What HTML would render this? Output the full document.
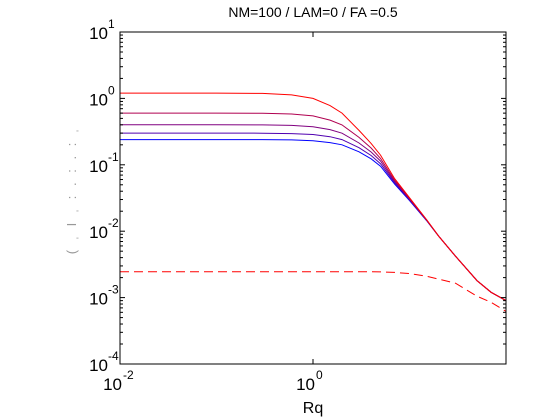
<!DOCTYPE html>
<html><head><meta charset="utf-8"><style>
html,body{margin:0;padding:0;background:#fff;}
svg{display:block;font-family:"Liberation Sans",Arial,sans-serif;}
</style></head><body>
<svg id="chart" width="560" height="420" viewBox="0 0 560 420" xmlns="http://www.w3.org/2000/svg">
<rect x="0" y="0" width="560" height="420" fill="#fff"/>
<text x="313" y="17" text-anchor="middle" font-size="14">NM=100 / LAM=0 / FA =0.5</text>
<text x="313" y="413" text-anchor="middle" font-size="16">Rq</text>
<text transform="translate(76,190) rotate(-90)" text-anchor="middle" font-size="13" fill="#999" letter-spacing="3">( ˌ I ˌ : . : . : ˌ</text>
<g id="plot"></g>
</svg>
<script>
const rq = [0.01,0.1,0.3,0.6,1,1.5,2,3,4,5,7,10,15,20,30,50,70,100];
const sRed    = [1.2,1.2,1.19,1.13,1.0,0.78,0.6,0.33,0.21,0.14,0.062,0.032,0.015,0.0085,0.0042,0.0018,0.0012,0.0009];
const sMag    = [0.6,0.6,0.597,0.582,0.545,0.472,0.399,0.259,0.179,0.125,0.0589,0.0312,0.0149,0.0085,0.0042,0.0018,0.0012,0.0009];
const sPurple = [0.4,0.4,0.399,0.392,0.375,0.339,0.299,0.213,0.156,0.114,0.0562,0.0304,0.0147,0.0085,0.0042,0.0018,0.0012,0.0009];
const sViolet = [0.3,0.3,0.299,0.295,0.286,0.265,0.24,0.181,0.138,0.104,0.0537,0.0297,0.0146,0.0085,0.0042,0.0018,0.0012,0.0009];
const sBlue   = [0.24,0.24,0.24,0.237,0.231,0.216,0.2,0.157,0.123,0.0953,0.0513,0.0289,0.0145,0.0085,0.0042,0.0018,0.0012,0.0009];
const sDashed = [0.00245,0.00245,0.00245,0.00245,0.00245,0.00245,0.00245,0.00245,0.00245,0.00244,0.0024,0.0023,0.0021,0.0019,0.00165,0.00105,0.00085,0.00062];
const xTickExp = [-2,0,2];
const yTickExp = [-4,-3,-2,-1,0,1];

const L=120,R=506,T=32,B=364;
const xMin=-2,xMax=2,yMin=-4,yMax=1;
const NS="http://www.w3.org/2000/svg";
function X(v){return L+(Math.log10(v)-xMin)/(xMax-xMin)*(R-L);}
function Y(v){return B-(Math.log10(v)-yMin)/(yMax-yMin)*(B-T);}
const g=document.getElementById('plot');
function mk(tag,attrs,parent){const e=document.createElementNS(NS,tag);for(const k in attrs)e.setAttribute(k,attrs[k]);(parent||g).appendChild(e);return e;}

const series=[[sDashed,'#ff0000','9,5','curve-dashed'],[sBlue,'#0000ff',null,'curve-blue'],[sViolet,'#5000b0',null,'curve-violet'],[sPurple,'#800080',null,'curve-purple'],[sMag,'#b00050',null,'curve-magenta'],[sRed,'#ff0000',null,'curve-red']];
series.forEach(s=>{
  const d=rq.map((x,i)=>(i?'L':'M')+X(x).toFixed(1)+' '+Y(s[0][i]).toFixed(1)).join(' ');
  const p=mk('path',{d:d,fill:'none',stroke:s[1],'stroke-width':1});
  if(s[2])p.setAttribute('stroke-dasharray',s[2]);
  
  
});

const frame=mk('rect',{x:L,y:T,width:R-L,height:B-T,fill:'none',stroke:'#000','stroke-width':1});



yTickExp.forEach(e=>{
  const y=Y(Math.pow(10,e));
  mk('line',{x1:L,x2:L+5,y1:y,y2:y,stroke:'#000'});
  mk('line',{x1:R,x2:R-5,y1:y,y2:y,stroke:'#000'});
  if(e<yMax){for(let m=2;m<10;m++){const ym=Y(m*Math.pow(10,e));
    mk('line',{x1:L,x2:L+3,y1:ym,y2:ym,stroke:'#000'});
    mk('line',{x1:R,x2:R-3,y1:ym,y2:ym,stroke:'#000'});}}
  const t=mk('text',{x:L-12,y:y+7,'text-anchor':'end','font-size':17});
  t.textContent='10';
  
  
  const s=mk('text',{x:L-12,y:y-4,'text-anchor':'start','font-size':12});
  s.textContent=String(e);
  
  
});
xTickExp.forEach(e=>{
  const x=X(Math.pow(10,e));
  mk('line',{x1:x,x2:x,y1:B,y2:B-5,stroke:'#000'});
  mk('line',{x1:x,x2:x,y1:T,y2:T+5,stroke:'#000'});
  if(e>=xMax)return;
  const t=mk('text',{x:x+2,y:B+26,'text-anchor':'end','font-size':17});
  t.textContent='10';
  
  
  const s=mk('text',{x:x+3,y:B+15,'text-anchor':'start','font-size':12});
  s.textContent=String(e);
  
  
});
</script>
</body></html>
